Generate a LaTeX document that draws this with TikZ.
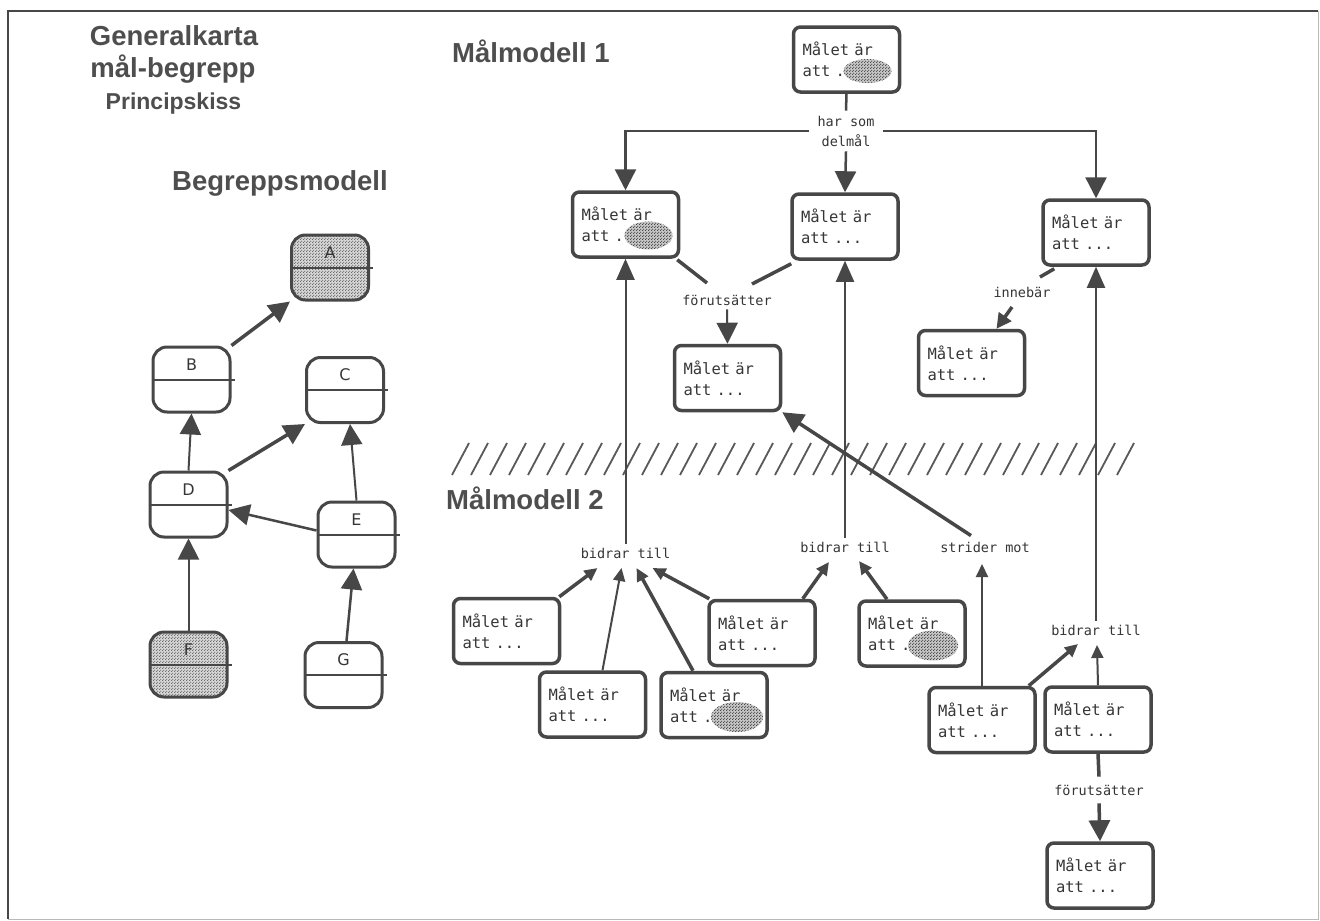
\documentclass[tikz,border=0pt]{standalone}
\usepackage{fontspec}
\setmainfont{Liberation Sans}
\newfontfamily\monof{DejaVu Sans Mono}
\newfontfamily\letf{DejaVu Sans}
\usetikzlibrary{arrows.meta,calc,patterns}
\definecolor{lc}{HTML}{474747}
\definecolor{tc}{HTML}{363636}
\definecolor{ttlc}{HTML}{4E4E4E}
\pgfdeclarepatternformonly{stipple}{\pgfpointorigin}{\pgfqpoint{3pt}{3pt}}{\pgfqpoint{3pt}{3pt}}{%
 \pgfpathcircle{\pgfqpoint{0.75pt}{0.75pt}}{0.85pt}%
 \pgfpathcircle{\pgfqpoint{2.25pt}{2.25pt}}{0.85pt}%
 \pgfusepath{fill}}
\tikzset{
  goal/.style={draw=lc, line width=3.5pt, rounded corners=7pt, fill=white,
    minimum height=65pt, text width=88pt, inner xsep=9pt, inner ysep=0pt,
    align=left, text=tc, font=\monof\fontsize{15.5}{21}\selectfont},
  cbox/.style={draw=lc, line width=3pt, rounded corners=14pt, fill=white,
    minimum width=77pt, minimum height=65pt, inner sep=0pt},
  shaded/.style={preaction={fill=lc!22}, pattern=stipple, pattern color=lc!80},
  clet/.style={text=tc, font=\letf\fontsize{16}{18}\selectfont, inner sep=0pt},
  lab/.style={text=tc, font=\monof\fontsize{13.5}{20}\selectfont, align=center, inner sep=4pt},
  ttl/.style={text=ttlc, font=\bfseries\fontsize{27.5}{30}\selectfont, inner sep=0pt},
  blob/.style={preaction={fill=lc!30}, pattern=stipple, pattern color=lc},
  thk/.style={draw=lc, line width=3.5pt},
  med/.style={draw=lc, line width=2.5pt},
  thn/.style={draw=lc, line width=2pt},
  bighead/.style={-{Triangle[length=21pt,width=21pt]}},
  medhead/.style={-{Triangle[length=21pt,width=18pt]}},
  smhead/.style={-{Triangle[length=13pt,width=12pt]}},
  hatch/.style={draw=lc!90, line width=1.8pt},
}
\begin{document}
\begin{tikzpicture}[x=1pt,y=-1pt]
\useasboundingbox (0,0) rectangle (1320,921);
\fill[white] (0,0) rectangle (1320,921);
% frame
\draw[draw=lc, line width=2.5pt] (1318,11) -- (8,11) -- (8,919);
\draw[draw=gray!55, line width=1pt] (8,919) -- (1318,919) -- (1318,11);

% titles
\node[ttl, anchor=base] (t1) at (174,45) {Generalkarta};
\node[ttl, anchor=base] (t2) at (173,77) {mål-begrepp};
\node[ttl, anchor=base, font=\bfseries\fontsize{23}{26}\selectfont] (t3) at (173.5,109) {Principskiss};
\node[ttl, anchor=base west] (t4) at (172,190) {Begreppsmodell};
\node[ttl, anchor=base west] (t5) at (452,62) {Målmodell 1};
\node[ttl, anchor=base west] (t6) at (446,509) {Målmodell 2};

% concept model
\node[cbox, shaded] (A) at (330,267.5) {};
\node[cbox] (B) at (191.5,379.5) {};
\node[cbox] (C) at (345,390) {};
\node[cbox] (D) at (188.5,504.5) {};
\node[cbox] (E) at (356.5,534.5) {};
\node[cbox, shaded] (F) at (188.5,664.5) {};
\node[cbox] (G) at (343.5,675) {};
\foreach \n in {A,B,C,D,E,F,G}{
  \draw[thn] (\n.west) -- ($(\n.east)+(3,0)$);
  \node[clet] (\n let) at ($(\n.center)+(0,-15)$) {\n};
}
\draw[thk, bighead] (B.north east) -- (A.south west);
\draw[thn, bighead] (D.north) -- (B.south);
\draw[thk, bighead] (D.north east) -- (C.south west);
\draw[med, bighead] ($(E.west)+(0,-4)$) -- ($(D.east)+(0,5.5)$);
\draw[thn, bighead] (E.north) -- ($(C.south)+(5,0)$);
\draw[thn, bighead] (F.north) -- (D.south);
\draw[med, bighead] ($(G.north)+(3,0)$) -- ($(E.south)+(-3,0)$);

% hatched band
\foreach \x in {452,471,...,1125}{
  \draw[hatch] (\x,475) -- ++(17,-32);
}

% goal model boxes
\node[goal] (T) at (846.5,59.5) {Målet är\\att .};
\node[goal] (L1) at (625.5,224.5) {Målet är\\att .};
\node[goal] (M1) at (845,226.5) {Målet är\\att ...};
\node[goal] (R1) at (1096,232.5) {Målet är\\att ...};
\node[goal] (P) at (727.5,378) {Målet är\\att ...};
\node[goal] (Q) at (971.5,363) {Målet är\\att ...};
\node[goal] (B1) at (506.5,631) {Målet är\\att ...};
\node[goal] (B2) at (592.5,704.5) {Målet är\\att ...};
\node[goal] (B3) at (714,705) {Målet är\\att .};
\node[goal] (B4) at (762,633) {Målet är\\att ...};
\node[goal] (B5) at (912,633.5) {Målet är\\att .};
\node[goal] (B6) at (982,720) {Målet är\\att ...};
\node[goal] (B7) at (1098,719.5) {Målet är\\att ...};
\node[goal] (B8) at (1100,875.5) {Målet är\\att ...};

% stippled blobs
\fill[blob] ($(T.center)+(21,11.5)$) ellipse [x radius=24pt, y radius=12pt];
\fill[blob] ($(L1.center)+(23,11)$) ellipse [x radius=24pt, y radius=14pt];
\fill[blob] ($(B3.center)+(23,12)$) ellipse [x radius=26pt, y radius=15pt];
\fill[blob] ($(B5.center)+(21,12)$) ellipse [x radius=25pt, y radius=15pt];

% labels
\node[lab, inner xsep=8pt, inner ysep=5pt] (hs) at (846,131) {har som\\delmål};
\node[lab] (fu1) at (727,300) {förutsätter};
\node[lab] (inn) at (1022,292) {innebär};
\node[lab] (bt1) at (625.5,553) {bidrar till};
\node[lab] (bt2) at (845,547) {bidrar till};
\node[lab] (sm) at (985,547) {strider mot};
\node[lab] (bt3) at (1096,630) {bidrar till};
\node[lab, inner ysep=8pt] (fu2) at (1099,790) {förutsätter};

% har som delmål
\draw[med] (T.south) -- (hs.north);
\draw[med, bighead] (hs.west) -| (L1.north);
\draw[med, bighead] (hs.east) -| (R1.north);
\draw[med, bighead] (hs.south) -- (M1.north);

% förutsätter (top)
\draw[thk] ($(L1.south east)+(-3,1)$) -- ($(fu1.center)+(-20,-17)$);
\draw[thk] ($(M1.south west)+(1,3)$) -- ($(fu1.center)+(25,-16)$);
\draw[thn, bighead] (fu1.south) -- (P.north);

% innebär
\draw[thk] ($(R1.south west)+(13,2)$) -- ($(inn.center)+(18,-15)$);
\draw[thk, -{Triangle[length=15pt,width=15pt]}] ($(inn.center)+(-10,15)$) -- ($(Q.north)+(25,0)$);

% long bidrar till arrows
\draw[thn, medhead] (bt1.north) -- (L1.south);
\draw[thn, medhead] (bt2.north) -- (M1.south);
\draw[thn, medhead] (bt3.north) -- (R1.south);

% strider mot
\draw[thk, bighead] ($(sm.north)+(-14,-2)$) -- (P.south east);
\draw[thn, smhead] (B6.north) -- ($(sm.center)+(-3,17)$);

% bidrar till (bottom left)
\draw[thk, smhead] ($(B1.north east)+(-2,0)$) -- ($(bt1.center)+(-28,15)$);
\draw[thn, smhead] ($(B2.north)+(10,0)$) -- ($(bt1.center)+(-4,15)$);
\draw[thk, smhead] ($(B3.north)+(-21,0)$) -- ($(bt1.center)+(11,15)$);
\draw[thk, smhead] ($(B4.north west)+(2,0)$) -- ($(bt1.center)+(27,15)$);
% bidrar till (middle)
\draw[thk, smhead] ($(B4.north east)+(-14,0)$) -- ($(bt2.center)+(-16,15)$);
\draw[thk, smhead] ($(B5.north)+(-25,0)$) -- ($(bt2.center)+(14,14)$);
% bidrar till (right)
\draw[thk, smhead] ($(B6.north east)+(-8,0)$) -- ($(bt3.center)+(-18,14)$);
\draw[thn, smhead] (B7.north) -- ($(bt3.center)+(1,15)$);
% förutsätter (bottom)
\draw[thk] (B7.south) -- (fu2.north);
\draw[thk, bighead] (fu2.south) -- (B8.north);
\end{tikzpicture}
\end{document}
